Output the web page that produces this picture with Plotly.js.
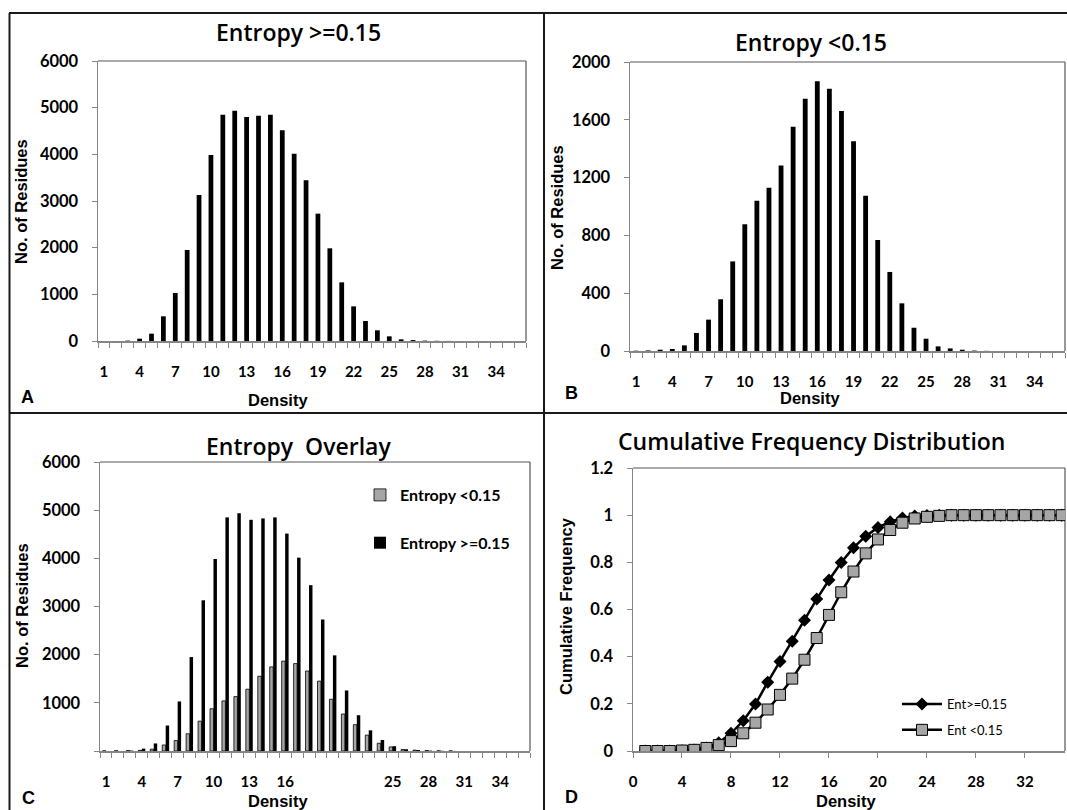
<!DOCTYPE html>
<html>
<head>
<meta charset="utf-8">
<script src="https://cdn.plot.ly/plotly-3.0.1.min.js"></script>
<style>
html,body{margin:0;padding:0;background:#fff;}
#chart{width:1067px;height:810px;}
</style>
</head>
<body>
<div id="chart"></div>
<script>
// Density categories (bins)
var density = [1,2,3,4,5,6,7,8,9,10,11,12,13,14,15,16,17,18,19,20,21,22,23,24,25,26,27,28,29,30,31,32,33,34,35,36];
// No. of residues, Entropy >= 0.15 (panel A)
var entHigh = [0,0,8,50,157,529,1029,1950,3129,3986,4850,4936,4800,4829,4850,4514,4014,3443,2729,1986,1257,743,429,229,100,36,20,8,4,2,0,0,0,0,0,0];
// No. of residues, Entropy < 0.15 (panel B)
var entLow = [2,4,9,14,39,125,217,358,620,877,1040,1130,1283,1552,1746,1866,1815,1661,1451,1075,768,547,330,161,85,32,18,9,3,1,0,0,0,0,0,0];
// Cumulative frequency distribution (panel D)
var cumX = [1,2,3,4,5,6,7,8,9,10,11,12,13,14,15,16,17,18,19,20,21,22,23,24,25,26,27,28,29,30,31,32,33,34,35];
var cumHigh = [0,0,0,0.001,0.004,0.013,0.035,0.075,0.128,0.199,0.292,0.380,0.465,0.554,0.644,0.725,0.799,0.862,0.911,0.948,0.972,0.988,0.996,0.999,1,1,1,1,1,1,1,1,1,1,1];
var cumLow = [0,0,0,0.002,0.005,0.013,0.025,0.042,0.075,0.120,0.176,0.238,0.307,0.387,0.479,0.577,0.673,0.761,0.838,0.897,0.937,0.968,0.986,0.993,0.997,1,1,1,1,1,1,1,1,1,1];
// Tick labels
var catTicks = [1,4,7,10,13,16,19,22,25,28,31,34];
var catTicksC = [1,4,7,10,13,16,25,28,31,34];
var yTicksA = [0,1000,2000,3000,4000,5000,6000];
var yTicksB = [0,400,800,1200,1600,2000];
var yTicksC = [0,1000,2000,3000,4000,5000,6000];
var yTextC = ['','1000','2000','3000','4000','5000','6000'];
var xTicksD = [0,4,8,12,16,20,24,28,32];
var yTicksD = [0,0.2,0.4,0.6,0.8,1,1.2];

var W = 1067, H = 810;
function px(x){return x/W;}
function py(y){return 1 - y/H;}

var yTickFont = {family:'Lato, "Open Sans", sans-serif', size:16.5, color:'#000', weight:'bold'};
var xTickFont = {family:'Lato, "Open Sans", sans-serif', size:15, color:'#000', weight:'bold'};
var axisGray = '#868686';

function catAxis(domain, ticks){
  return {
    domain: domain, range:[0.5,36.5], type:'linear',
    tickmode:'array', tickvals:ticks, ticktext:ticks.map(String),
    ticks:'', showgrid:false, zeroline:false,
    showline:true, linecolor:axisGray, linewidth:1.5,
    tickfont: xTickFont, ticklabelstandoff: 16,
    minor:{tickmode:'linear', tick0:0.5, dtick:1, ticks:'outside', ticklen:5, tickcolor:axisGray, tickwidth:1, showgrid:false},
    fixedrange:true
  };
}
function valAxis(domain, range, vals, text){
  return {
    domain: domain, range: range,
    tickmode:'array', tickvals:vals, ticktext: text || vals.map(String),
    ticks:'outside', ticklen:5, tickcolor:axisGray, tickwidth:1,
    showgrid:false, zeroline:false,
    showline:true, linecolor:axisGray, linewidth:1.5,
    tickfont: yTickFont, ticklabelstandoff: 10,
    fixedrange:true
  };
}

var lowOutline = entLow.map(function(v){return v > 0 ? 0.8 : 0;});

var traces = [
  {type:'bar', x:density, y:entHigh, xaxis:'x', yaxis:'y', width:0.4,
   marker:{color:'#000'}, showlegend:false, name:'Entropy >=0.15'},
  {type:'bar', x:density, y:entLow, xaxis:'x2', yaxis:'y2', width:0.4,
   marker:{color:'#000'}, showlegend:false, name:'Entropy <0.15'},
  {type:'bar', x:density, y:entLow, xaxis:'x3', yaxis:'y3',
   marker:{color:'#a6a6a6', line:{color:'#000', width:lowOutline}}, name:'Entropy <0.15',
   legend:'legend', legendgroup:'g1'},
  {type:'bar', x:density, y:entHigh, xaxis:'x3', yaxis:'y3',
   marker:{color:'#000'}, name:'Entropy >=0.15',
   legend:'legend', legendgroup:'g2'},
  {type:'scatter', mode:'lines+markers', x:cumX, y:cumHigh, xaxis:'x4', yaxis:'y4',
   line:{color:'#000', width:2.5}, marker:{symbol:'diamond', size:10, color:'#000'},
   name:'Ent>=0.15', legend:'legend2', legendgroup:'h1'},
  {type:'scatter', mode:'lines+markers', x:cumX, y:cumLow, xaxis:'x4', yaxis:'y4',
   line:{color:'#000', width:2.5}, marker:{symbol:'square', size:11, color:'#a6a6a6', line:{color:'#000', width:1}},
   name:'Ent <0.15', legend:'legend2', legendgroup:'h2'}
];

var dA = {x:[px(98),px(526)], y:[py(341),py(61)]};
var dB = {x:[px(630),px(1065)], y:[py(351),py(62)]};
var dC = {x:[px(100),px(530)], y:[py(751),py(462)]};
var dD = {x:[px(633),px(1065)], y:[py(751),py(468)]};

var xD = valAxis(dD.x, [0,35.27], xTicksD);
xD.ticklabelstandoff = 11;
xD.tickfont = xTickFont;

var layout = {
  width:W, height:H,
  margin:{l:0,r:0,t:0,b:0},
  paper_bgcolor:'#fff', plot_bgcolor:'#fff',
  barmode:'group', bargap:0.42, bargroupgap:0,
  xaxis: catAxis(dA.x, catTicks),
  yaxis: valAxis(dA.y, [0,6000], yTicksA),
  xaxis2: Object.assign(catAxis(dB.x, catTicks), {anchor:'y2'}),
  yaxis2: Object.assign(valAxis(dB.y, [0,2000], yTicksB), {anchor:'x2'}),
  xaxis3: Object.assign(catAxis(dC.x, catTicksC), {anchor:'y3'}),
  yaxis3: Object.assign(valAxis(dC.y, [0,6000], yTicksC, yTextC), {anchor:'x3'}),
  xaxis4: Object.assign(xD, {anchor:'y4'}),
  yaxis4: Object.assign(valAxis(dD.y, [0,1.2], yTicksD), {anchor:'x4'}),
  showlegend:true,
  legend:{x:px(360), y:py(478), xanchor:'left', yanchor:'top', bgcolor:'rgba(0,0,0,0)',
    traceorder:'grouped', tracegroupgap:24, itemwidth:30,
    font:{family:'Lato, "Open Sans", sans-serif', size:16, color:'#000', weight:'bold'}},
  legend2:{x:px(897), y:py(689), xanchor:'left', yanchor:'top', bgcolor:'rgba(0,0,0,0)',
    traceorder:'grouped', tracegroupgap:6, itemwidth:40,
    font:{family:'Lato, "Open Sans", sans-serif', size:13, color:'#000'}},
  shapes: [],
  annotations: []
};

// plot-area outlines (top/right darker)
[['x','y'],['x2','y2'],['x3','y3'],['x4','y4']].forEach(function(p){
  layout.shapes.push({type:'line', xref:p[0]+' domain', yref:p[1]+' domain', x0:0, x1:1, y0:1, y1:1, line:{color:'#555', width:1.2}, layer:'below'});
  layout.shapes.push({type:'line', xref:p[0]+' domain', yref:p[1]+' domain', x0:1, x1:1, y0:0, y1:1, line:{color:'#555', width:1.2}, layer:'below'});
});
// panel frame lines
var frameCol = '#1a1a1a';
layout.shapes.push({type:'line', xref:'paper', yref:'paper', x0:px(9), x1:1, y0:py(13), y1:py(13), line:{color:frameCol, width:2}});
layout.shapes.push({type:'line', xref:'paper', yref:'paper', x0:px(9.5), x1:px(9.5), y0:py(13), y1:0, line:{color:frameCol, width:2}});
layout.shapes.push({type:'line', xref:'paper', yref:'paper', x0:px(544), x1:px(544), y0:py(13), y1:0, line:{color:frameCol, width:2}});
layout.shapes.push({type:'line', xref:'paper', yref:'paper', x0:px(9), x1:1, y0:py(413), y1:py(413), line:{color:frameCol, width:2}});

function ann(text, x, y, font, extra){
  var a = {text:text, xref:'paper', yref:'paper', x:px(x), y:py(y), showarrow:false,
           xanchor:'center', yanchor:'middle', font:font};
  return Object.assign(a, extra || {});
}
var titleFont = {family:'"Open Sans", Lato, sans-serif', size:23, color:'#000', weight:600};
var axTitleFont = {family:'"Liberation Sans", Arial, sans-serif', size:16.5, color:'#000', weight:'bold'};
var densFont = {family:'"Liberation Sans", Arial, sans-serif', size:16.5, color:'#000', weight:'bold'};
var letterFont = {family:'"Liberation Sans", Arial, sans-serif', size:18, color:'#000', weight:'bold'};

layout.annotations.push(ann('Entropy >=0.15', 298, 32, titleFont));
layout.annotations.push(ann('Entropy <0.15', 811, 42, titleFont));
layout.annotations.push(ann('Entropy  Overlay', 298, 446, titleFont));
layout.annotations.push(ann('Cumulative Frequency Distribution', 811, 441, titleFont));

layout.annotations.push(ann('No. of Residues', 21, 202, axTitleFont, {textangle:-90}));
layout.annotations.push(ann('No. of Residues', 557, 208, axTitleFont, {textangle:-90}));
layout.annotations.push(ann('No. of Residues', 22, 606, axTitleFont, {textangle:-90}));
layout.annotations.push(ann('Cumulative Frequency', 566, 606, axTitleFont, {textangle:-90}));

layout.annotations.push(ann('Density', 278, 400, densFont));
layout.annotations.push(ann('Density', 810, 398, densFont));
layout.annotations.push(ann('Density', 278, 801, densFont));
layout.annotations.push(ann('Density', 846, 801, densFont));

layout.annotations.push(ann('A', 27, 397, letterFont));
layout.annotations.push(ann('B', 571, 393, letterFont));
layout.annotations.push(ann('C', 28, 798, letterFont));
layout.annotations.push(ann('D', 571, 797, letterFont));

Plotly.newPlot('chart', traces, layout, {displayModeBar:false, staticPlot:true});
</script>
</body>
</html>
